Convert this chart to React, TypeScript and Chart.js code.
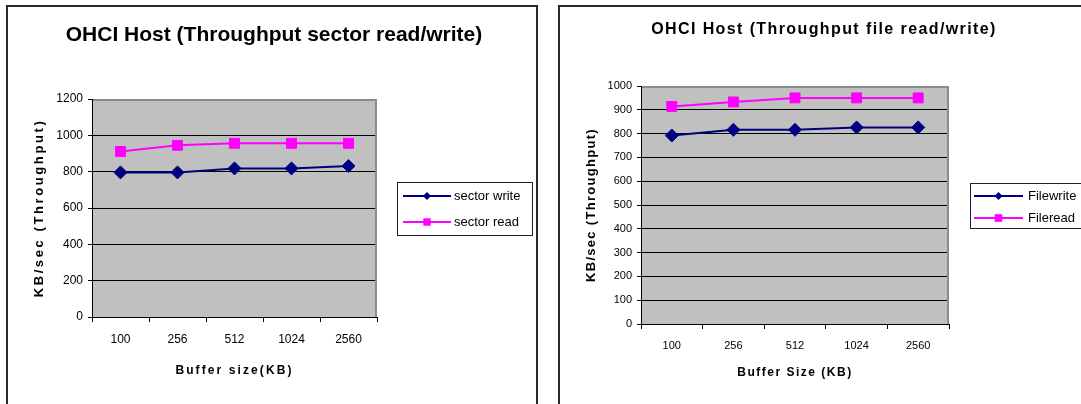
import React, { useEffect, useRef } from 'react';
import { Chart, registerables } from 'chart.js';

Chart.register(...registerables);

const FONT = "'Liberation Sans', Arial, Helvetica, sans-serif";

// ---- Left chart data: sector read/write ----
const sectorTitle = 'OHCI Host (Throughput sector read/write)';
const sectorCategories = ['100', '256', '512', '1024', '2560'];
const sectorWrite = [796, 796, 818, 818, 831];
const sectorRead = [911, 945, 956, 956, 956];
const sectorSeriesLabels = ['sector write', 'sector read'];
const sectorYTicks = [0, 200, 400, 600, 800, 1000, 1200];
const sectorXTitle = 'Buffer size(KB)';
const sectorYTitle = 'KB/sec (Throughput)';

// ---- Right chart data: file read/write ----
const fileTitle = 'OHCI Host (Throughput file read/write)';
const fileCategories = ['100', '256', '512', '1024', '2560'];
const fileWrite = [792, 816, 816, 826, 826];
const fileRead = [914, 933, 950, 950, 950];
const fileSeriesLabels = ['Filewrite', 'Fileread'];
const fileYTicks = [0, 100, 200, 300, 400, 500, 600, 700, 800, 900, 1000];
const fileXTitle = 'Buffer Size (KB)';
const fileYTitle = 'KB/sec (Throughput)';

const NAVY = '#000080';
const MAGENTA = '#FF00FF';

function drawMarker(ctx: CanvasRenderingContext2D, style: string, r: number, x: number, y: number, color: string) {
  ctx.save();
  ctx.fillStyle = color;
  ctx.beginPath();
  if (style === 'rectRot') {
    ctx.moveTo(x, y - r);
    ctx.lineTo(x + r, y);
    ctx.lineTo(x, y + r);
    ctx.lineTo(x - r, y);
    ctx.closePath();
  } else {
    ctx.rect(x - r, y - r, 2 * r, 2 * r);
  }
  ctx.fill();
  ctx.restore();
}

const plotBgPlugin = {
  id: 'plotBg',
  beforeDraw(chart: any) {
    const { ctx, chartArea: a } = chart;
    ctx.save();
    ctx.fillStyle = '#C0C0C0';
    ctx.fillRect(a.left, a.top, a.right - a.left, a.bottom - a.top);
    ctx.restore();
  },
  beforeDatasetsDraw(chart: any) {
    const { ctx, chartArea: a } = chart;
    ctx.save();
    ctx.strokeStyle = '#8C8C8C';
    ctx.lineWidth = 2;
    ctx.beginPath();
    ctx.moveTo(a.left + 1, a.top + 1);
    ctx.lineTo(a.right - 1, a.top + 1);
    ctx.lineTo(a.right - 1, a.bottom);
    ctx.stroke();
    ctx.restore();
  },
};

const spacedAxisTitles = {
  id: 'spacedAxisTitles',
  afterLayout(chart: any, _args: any, opts: any) {
    Object.values(chart.scales).forEach((scale: any) => {
      const sp = opts && opts[scale.id];
      if (sp == null || scale.__spaced) return;
      const orig = scale.drawTitle;
      scale.drawTitle = function (...a: any[]) {
        const c = this.ctx;
        c.save();
        (c as any).letterSpacing = sp + 'px';
        orig.apply(this, a);
        c.restore();
      };
      scale.__spaced = true;
    });
  },
};

const chartTitlePlugin = {
  id: 'chartTitle',
  afterDraw(chart: any, _args: any, o: any) {
    const ctx = chart.ctx;
    ctx.save();
    ctx.font = o.font;
    (ctx as any).letterSpacing = (o.spacing || 0) + 'px';
    ctx.fillStyle = '#000';
    ctx.textAlign = 'center';
    ctx.textBaseline = 'alphabetic';
    ctx.fillText(o.text, o.x, o.y);
    ctx.restore();
  },
};

const boxLegendPlugin = {
  id: 'boxLegend',
  afterDraw(chart: any, _args: any, o: any) {
    const { ctx, chartArea } = chart;
    const left = chartArea.right + o.gap;
    const cy = (chartArea.top + chartArea.bottom) / 2;
    const top = Math.round(cy - o.height / 2);
    ctx.save();
    ctx.fillStyle = '#fff';
    ctx.fillRect(left, top, o.width, o.height);
    ctx.strokeStyle = '#222';
    ctx.lineWidth = 1;
    ctx.strokeRect(left + 0.5, top + 0.5, o.width, o.height);
    chart.data.datasets.forEach((ds: any, i: number) => {
      const y = top + o.firstRow + i * o.rowGap;
      ctx.strokeStyle = ds.borderColor;
      ctx.lineWidth = ds.borderWidth;
      ctx.beginPath();
      ctx.moveTo(left + o.lineStart, y);
      ctx.lineTo(left + o.lineEnd, y);
      ctx.stroke();
      const mx = left + (o.lineStart + o.lineEnd) / 2;
      const r = ds.pointStyle === 'rectRot' ? o.diamondR : o.squareR;
      drawMarker(ctx, ds.pointStyle, r, mx, y, ds.pointBackgroundColor);
      ctx.fillStyle = '#000';
      ctx.font = o.font;
      ctx.textBaseline = 'middle';
      ctx.textAlign = 'left';
      ctx.fillText(ds.label, left + o.textStart, y);
    });
    ctx.restore();
  },
};

type Cfg = {
  width: number;
  height: number;
  categories: string[];
  write: number[];
  read: number[];
  labels: string[];
  yTicks: number[];
  title: string;
  xTitle: string;
  yTitle: string;
  layout: { padding: { left: number; right: number; top: number; bottom: number } };
  yWidth: number;
  xHeight: number;
  tickSize: number;
  yTitleSize: number;
  yTitlePadTop: number;
  yTitleSpacing: number;
  xTitleSize: number;
  xTitlePadBottom: number;
  xTitleSpacing: number;
  titleOpts: any;
  legendOpts: any;
  diamondR: number;
  squareR: number;
};

function LineChart({ cfg }: { cfg: Cfg }) {
  const ref = useRef<HTMLCanvasElement | null>(null);
  useEffect(() => {
    if (!ref.current) return;
    const yMin = cfg.yTicks[0];
    const yMax = cfg.yTicks[cfg.yTicks.length - 1];
    const yStep = cfg.yTicks[1] - cfg.yTicks[0];
    const chart = new Chart(ref.current, {
      type: 'line',
      data: {
        labels: cfg.categories,
        datasets: [
          {
            label: cfg.labels[0],
            data: cfg.write,
            borderColor: NAVY,
            backgroundColor: NAVY,
            pointBackgroundColor: NAVY,
            pointBorderColor: NAVY,
            pointBorderWidth: 1,
            borderWidth: 2,
            pointStyle: 'rectRot',
            pointRadius: cfg.diamondR,
            tension: 0,
          },
          {
            label: cfg.labels[1],
            data: cfg.read,
            borderColor: MAGENTA,
            backgroundColor: MAGENTA,
            pointBackgroundColor: MAGENTA,
            pointBorderColor: MAGENTA,
            pointBorderWidth: 1,
            borderWidth: 2,
            pointStyle: 'rect',
            pointRadius: cfg.squareR,
            tension: 0,
          },
        ],
      },
      options: {
        responsive: false,
        animation: false,
        devicePixelRatio: 1,
        layout: cfg.layout,
        events: [],
        plugins: {
          legend: { display: false },
          title: { display: false },
          tooltip: { enabled: false },
          chartTitle: cfg.titleOpts,
          boxLegend: cfg.legendOpts,
          spacedAxisTitles: { x: cfg.xTitleSpacing, y: cfg.yTitleSpacing },
        } as any,
        scales: {
          x: {
            type: 'category',
            offset: true,
            grid: {
              display: true,
              offset: true,
              color: 'transparent',
              tickColor: '#000',
              tickLength: 5,
            },
            border: { display: true, color: '#000', width: 1 },
            ticks: {
              color: '#000',
              font: { family: FONT, size: cfg.tickSize },
              padding: 10,
              maxRotation: 0,
              autoSkip: false,
            },
            title: {
              display: true,
              text: cfg.xTitle,
              color: '#000',
              font: { family: FONT, size: cfg.xTitleSize, weight: 'bold' },
              padding: { top: 0, bottom: cfg.xTitlePadBottom },
            },
            afterFit: (s: any) => {
              s.height = cfg.xHeight;
            },
          },
          y: {
            type: 'linear',
            min: yMin,
            max: yMax,
            ticks: {
              stepSize: yStep,
              color: '#000',
              font: { family: FONT, size: cfg.tickSize },
              padding: 5,
              callback: (v: any) => String(v),
            },
            grid: {
              color: (c: any) => (c.tick && c.tick.value === yMax ? 'transparent' : '#000'),
              tickColor: '#000',
              tickLength: 4,
            },
            border: { display: true, color: '#000', width: 1 },
            title: {
              display: true,
              text: cfg.yTitle,
              color: '#000',
              font: { family: FONT, size: cfg.yTitleSize, weight: 'bold' },
              padding: { top: cfg.yTitlePadTop, bottom: 0 },
            },
            afterFit: (s: any) => {
              s.width = cfg.yWidth;
            },
          },
        },
      },
      plugins: [plotBgPlugin, spacedAxisTitles, chartTitlePlugin, boxLegendPlugin],
    } as any);
    return () => chart.destroy();
  }, [cfg]);
  return <canvas ref={ref} width={cfg.width} height={cfg.height} style={{ display: 'block' }} />;
}

const leftCfg: Cfg = {
  width: 545,
  height: 404,
  categories: sectorCategories,
  write: sectorWrite,
  read: sectorRead,
  labels: sectorSeriesLabels,
  yTicks: sectorYTicks,
  title: sectorTitle,
  xTitle: sectorXTitle,
  yTitle: sectorYTitle,
  layout: { padding: { left: 0, right: 168, top: 99, bottom: 17 } },
  yWidth: 92,
  xHeight: 70,
  tickSize: 12,
  yTitleSize: 13,
  yTitlePadTop: 32,
  yTitleSpacing: 2.6,
  xTitleSize: 12,
  xTitlePadBottom: 8.8,
  xTitleSpacing: 2.1,
  titleOpts: { text: sectorTitle, font: `bold 21px ${FONT}`, spacing: 0, x: 274, y: 41 },
  legendOpts: {
    gap: 20,
    width: 135,
    height: 53,
    firstRow: 14,
    rowGap: 26,
    lineStart: 6,
    lineEnd: 54,
    textStart: 57,
    font: `13px ${FONT}`,
    diamondR: 4,
    squareR: 3.7,
  },
  diamondR: 6.5,
  squareR: 7,
};

const rightCfg: Cfg = {
  width: 536,
  height: 404,
  categories: fileCategories,
  write: fileWrite,
  read: fileRead,
  labels: fileSeriesLabels,
  yTicks: fileYTicks,
  title: fileTitle,
  xTitle: fileXTitle,
  yTitle: fileYTitle,
  layout: { padding: { left: 0, right: 132, top: 86, bottom: 20 } },
  yWidth: 96,
  xHeight: 60,
  tickSize: 11,
  yTitleSize: 13,
  yTitlePadTop: 39,
  yTitleSpacing: 1.3,
  xTitleSize: 12,
  xTitlePadBottom: 3.8,
  xTitleSpacing: 1.5,
  titleOpts: { text: fileTitle, font: `bold 16px ${FONT}`, spacing: 1.4, x: 279, y: 34 },
  legendOpts: {
    gap: 21,
    width: 130,
    height: 45,
    firstRow: 13,
    rowGap: 22,
    lineStart: 4,
    lineEnd: 53,
    textStart: 58,
    font: `13px ${FONT}`,
    diamondR: 4,
    squareR: 3.8,
  },
  diamondR: 6.5,
  squareR: 7,
};

export default function App() {
  return (
    <div
      style={{
        position: 'fixed',
        left: 0,
        top: 0,
        width: 1081,
        height: 404,
        overflow: 'hidden',
        background: '#fff',
      }}
    >
      <div
        style={{
          position: 'absolute',
          left: 6,
          top: 5,
          width: 532,
          height: 440,
          boxSizing: 'border-box',
          border: '2px solid #2a2a2a',
          background: '#fff',
        }}
      />
      <div
        style={{
          position: 'absolute',
          left: 558,
          top: 5,
          width: 600,
          height: 440,
          boxSizing: 'border-box',
          border: '2px solid #2a2a2a',
          background: '#fff',
        }}
      />
      <div style={{ position: 'absolute', left: 0, top: 0, zIndex: 1 }}>
        <LineChart cfg={leftCfg} />
      </div>
      <div style={{ position: 'absolute', left: 545, top: 0, zIndex: 1 }}>
        <LineChart cfg={rightCfg} />
      </div>
    </div>
  );
}
